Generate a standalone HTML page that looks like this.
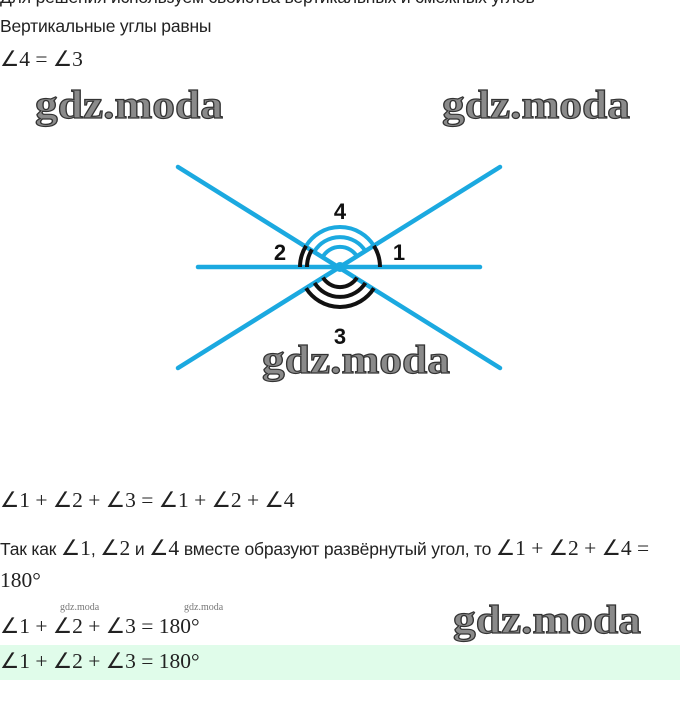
<!DOCTYPE html>
<html><head><meta charset="utf-8"><style>
body{margin:0;width:680px;height:715px;background:#fff;position:relative;overflow:hidden;font-family:"Liberation Sans",sans-serif;color:#222}
.t{position:absolute;left:0;font-size:17.5px;white-space:nowrap;letter-spacing:-0.2px}
.m{font-family:"Liberation Serif",serif;font-size:21.5px;letter-spacing:0}
.band{position:absolute;left:0;top:645px;width:680px;height:35px;background:#e0fcea}
</style></head><body>
<div class="t" style="top:-13px">Для решения используем свойства вертикальных и смежных углов</div>
<div class="t" style="top:16px">Вертикальные углы равны</div>
<div class="t m" style="top:47px">∠4 = ∠3</div>
<div class="t m" style="top:488px">∠1 + ∠2 + ∠3 = ∠1 + ∠2 + ∠4</div>
<div class="t" style="top:536px">Так как <span class="m">∠1</span>, <span class="m">∠2</span> и <span class="m">∠4</span> вместе образуют развёрнутый угол, то <span class="m">∠1 + ∠2 + ∠4 =</span></div>
<div class="t m" style="top:568px">180°</div>
<div class="t m" style="top:614px">∠1 + ∠2 + ∠3 = 180°</div>
<div class="band"></div>
<div class="t m" style="top:649px">∠1 + ∠2 + ∠3 = 180°</div>
<svg width="680" height="715" style="position:absolute;left:0;top:0">
<g stroke="#1ba9e0" stroke-width="4.5" stroke-linecap="round">
<line x1="198" y1="267" x2="480" y2="267"/>
<line x1="178" y1="167" x2="500" y2="368"/>
<line x1="178" y1="368" x2="500" y2="167"/>
</g>
<g fill="none" stroke="#1ba9e0" stroke-width="4">
<path d="M373.9 245.8 A40 40 0 0 0 306.1 245.8"/>
<path d="M365.4 251.1 A30 30 0 0 0 314.6 251.1"/>
<path d="M357 256.4 A20 20 0 0 0 323 256.4"/>
</g>
<g fill="none" stroke="#111" stroke-width="4">
<path d="M373.9 288.2 A40 40 0 0 1 306.1 288.2"/>
<path d="M365.4 282.9 A30 30 0 0 1 314.6 282.9"/>
<path d="M357 277.6 A20 20 0 0 1 323 277.6"/>
<path d="M306.1 245.8 A40 40 0 0 0 300 267"/>
<path d="M312 249.5 A33 33 0 0 0 307 267"/>
<path d="M380 267 A40 40 0 0 0 373.9 245.8"/>
</g>
<circle cx="340" cy="267" r="5" fill="#1ba9e0"/>
<g font-family="Liberation Sans,sans-serif" font-weight="bold" font-size="22" fill="#111" text-anchor="middle">
<text x="340" y="219">4</text><text x="280" y="260">2</text><text x="399" y="260">1</text><text x="340" y="344">3</text>
</g>
<g font-family="Liberation Serif,serif" font-weight="bold" font-size="40" fill="#8a8a8a" stroke="#333" stroke-width="1.2">
<text x="35" y="118" textLength="188" lengthAdjust="spacingAndGlyphs">gdz.moda</text>
<text x="442" y="118" textLength="188" lengthAdjust="spacingAndGlyphs">gdz.moda</text>
<text x="262" y="373" textLength="188" lengthAdjust="spacingAndGlyphs">gdz.moda</text>
<text x="453" y="633" textLength="188" lengthAdjust="spacingAndGlyphs">gdz.moda</text>
</g>
<g font-family="Liberation Serif,serif" font-size="10" fill="#777">
<text x="60" y="610">gdz.moda</text><text x="184" y="610">gdz.moda</text>
</g>
</svg>
</body></html>
